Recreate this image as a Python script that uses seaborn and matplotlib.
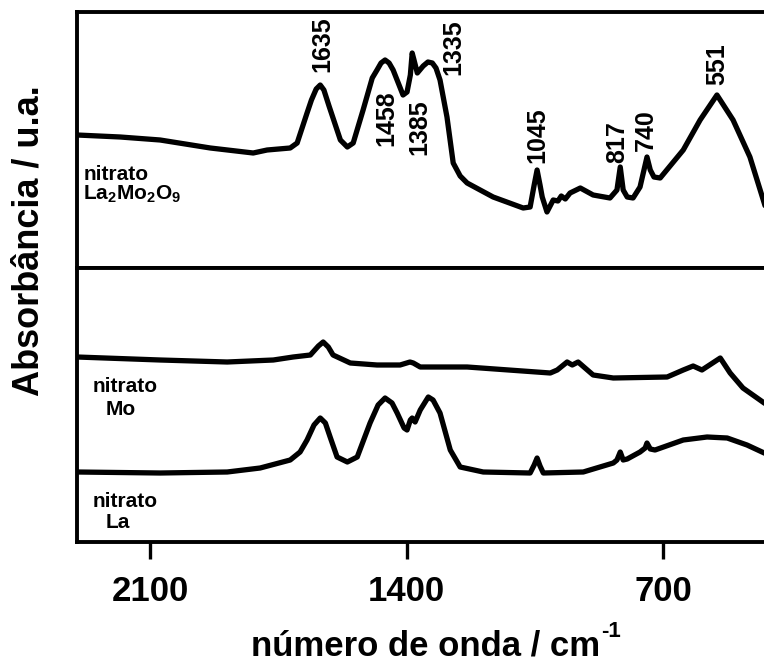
import matplotlib
matplotlib.use("Agg")
import numpy as np
import pandas as pd
import seaborn as sns
import matplotlib.pyplot as plt
from matplotlib import font_manager

# ---------------- data ----------------
# top panel: nitrato La2Mo2O9
w_la2mo2o9 = [2300, 2182, 2073, 1936, 1819, 1781, 1718, 1699, 1672, 1660, 1647, 1636, 1626, 1612,
              1581, 1562, 1546, 1519, 1494, 1481, 1470, 1459, 1448, 1437, 1410, 1399, 1390, 1385,
              1380, 1371, 1355, 1342, 1330, 1320, 1309, 1290, 1273, 1254, 1235, 1164, 1082, 1063,
              1052, 1044, 1036, 1030, 1017, 1000, 987, 978, 967, 954, 926, 891, 845, 826, 817, 809,
              798, 782, 763, 744, 735, 725, 708, 645, 599, 553, 509, 463, 424, 400]
a_la2mo2o9 = [133, 131, 128, 120, 115, 118, 120, 125, 155, 168, 179, 183, 178, 162,
              128, 121, 125, 158, 190, 198, 205, 208, 205, 198, 173, 176, 193, 215,
              208, 195, 202, 206, 205, 200, 188, 151, 105, 92, 85, 71, 60, 61,
              83, 98, 83, 71, 56, 68, 67, 72, 69, 75, 80, 73, 70, 78, 101, 78,
              71, 70, 81, 111, 98, 91, 90, 118, 148, 173, 148, 111, 65, 36]

# bottom panel: nitrato Mo
w_mo = [2300, 2073, 1890, 1764, 1710, 1663, 1641, 1628, 1614, 1601, 1554, 1481, 1418, 1391,
        1382, 1363, 1235, 1008, 989, 962, 948, 932, 891, 836, 689, 645, 618, 594, 544, 517,
        482, 424, 400]
a_mo = [185, 182, 180, 182, 185, 187, 196, 200, 195, 187, 179, 177, 177, 180,
        179, 175, 175, 169, 172, 180, 177, 180, 167, 164, 165, 172, 176, 172, 184, 169,
        154, 139, 134]

# bottom panel: nitrato La
w_la = [2300, 2073, 1890, 1800, 1718, 1691, 1672, 1653, 1636, 1622, 1609, 1590, 1562, 1535,
        1500, 1478, 1459, 1440, 1426, 1407, 1399, 1390, 1385, 1377, 1363, 1341, 1328, 1309,
        1281, 1254, 1191, 1063, 1052, 1044, 1036, 1027, 918, 836, 826, 817, 809, 798, 763,
        749, 744, 735, 722, 645, 580, 525, 471, 424, 400]
a_la = [70, 69, 70, 74, 82, 90, 102, 117, 124, 119, 105, 85, 80, 85,
        119, 137, 144, 139, 129, 114, 112, 122, 124, 120, 132, 145, 142, 129,
        92, 75, 70, 69, 77, 84, 76, 69, 70, 79, 82, 90, 82, 83, 90,
        94, 99, 93, 92, 102, 105, 104, 97, 89, 86]

peaks = [1635, 1458, 1385, 1335, 1045, 817, 740, 551]
tick_values = [2100, 1400, 700]
tick_labels = ["2100", "1400", "700"]

# ---------------- layout ----------------
peak_label_x = [1630, 1456, 1366, 1273, 1044, 826, 746, 553]
peak_label_y = [224, 150, 141, 221, 133, 126, 138, 204]

sns.set_theme(style="white")
plt.rcParams["font.family"] = ["Liberation Sans", "DejaVu Sans"]
plt.rcParams["font.weight"] = "bold"
plt.rcParams["text.color"] = "black"
plt.rcParams["xtick.color"] = "black"
plt.rcParams["axes.edgecolor"] = "black"
plt.rcParams["mathtext.fontset"] = "custom"
plt.rcParams["mathtext.rm"] = "Liberation Sans:bold"
plt.rcParams["mathtext.it"] = "Liberation Sans:bold"
plt.rcParams["mathtext.bf"] = "Liberation Sans:bold"
plt.rcParams["mathtext.sf"] = "Liberation Sans:bold"

names = {f.name for f in font_manager.fontManager.ttflist}
narrow = "Liberation Sans Narrow" if "Liberation Sans Narrow" in names else "Liberation Sans"
peak_fs = 21 if narrow == "Liberation Sans Narrow" else 18

W, H = 764, 663
fig = plt.figure(figsize=(W / 100, H / 100), dpi=100)


def px_rect(x0, y0, x1, y1):
    return [x0 / W, 1 - y1 / H, (x1 - x0) / W, (y1 - y0) / H]


ax1 = fig.add_axes(px_rect(77, 12, 773, 268))
ax2 = fig.add_axes(px_rect(77, 268, 773, 542))

line_kw = dict(color="black", linewidth=3.8, estimator=None, sort=False,
               solid_joinstyle="round", solid_capstyle="round")
sns.lineplot(x=w_la2mo2o9, y=a_la2mo2o9, ax=ax1, **line_kw)
sns.lineplot(x=w_mo, y=a_mo, ax=ax2, **line_kw)
sns.lineplot(x=w_la, y=a_la, ax=ax2, **line_kw)

for ax, ylim in ((ax1, (0, 256)), (ax2, (0, 274))):
    ax.set_xlim(2300, 400)
    ax.set_ylim(*ylim)
    ax.set_xlabel("")
    ax.set_ylabel("")
    ax.set_yticks([])
    for s in ax.spines.values():
        s.set_linewidth(2.8)
        s.set_color("black")

ax1.set_xticks([])
ax1.tick_params(bottom=False, labelbottom=False, left=False, labelleft=False)

ax2.set_xticks(tick_values)
ax2.set_xticklabels(tick_labels)
ax2.tick_params(axis="x", bottom=True, direction="out", length=12, width=2.4,
                pad=12, labelsize=25, colors="black")
for t in ax2.get_xticklabels():
    t.set_fontweight("bold")

# peak labels
for p, xl, yl in zip(peaks, peak_label_x, peak_label_y):
    ax1.text(xl, yl, str(p), rotation=90, ha="center", va="center",
             fontsize=peak_fs, fontfamily=narrow, fontweight="bold", color="black")

# sample labels
lab_fs = 15
ax1.text(2283, 88, "nitrato", fontsize=lab_fs, fontweight="bold", va="baseline", ha="left")
ax1.text(2283, 68, "La$_2$Mo$_2$O$_9$", fontsize=lab_fs, fontweight="bold", va="baseline", ha="left")
ax2.text(2256, 150, "nitrato", fontsize=lab_fs, fontweight="bold", va="baseline", ha="left")
ax2.text(2223, 127, "Mo", fontsize=lab_fs, fontweight="bold", va="baseline", ha="left")
ax2.text(2256, 35, "nitrato", fontsize=lab_fs, fontweight="bold", va="baseline", ha="left")
ax2.text(2223, 14, "La", fontsize=lab_fs, fontweight="bold", va="baseline", ha="left")

# axis titles
xl_main = fig.text(251 / W, 1 - 655 / H, "número de onda / cm", ha="left", va="baseline",
                   fontsize=25, fontweight="bold")
ax2.annotate("-1", xy=(1.0, 0.62), xycoords=xl_main, xytext=(1, 0),
             textcoords="offset points", ha="left", va="bottom",
             fontsize=16, fontweight="bold", annotation_clip=False)
fig.text(29 / W, 1 - 241 / H, "Absorbância / u.a.", ha="center", va="center",
         rotation=90, fontsize=26, fontweight="bold")

fig.savefig("out.png", dpi=100)
